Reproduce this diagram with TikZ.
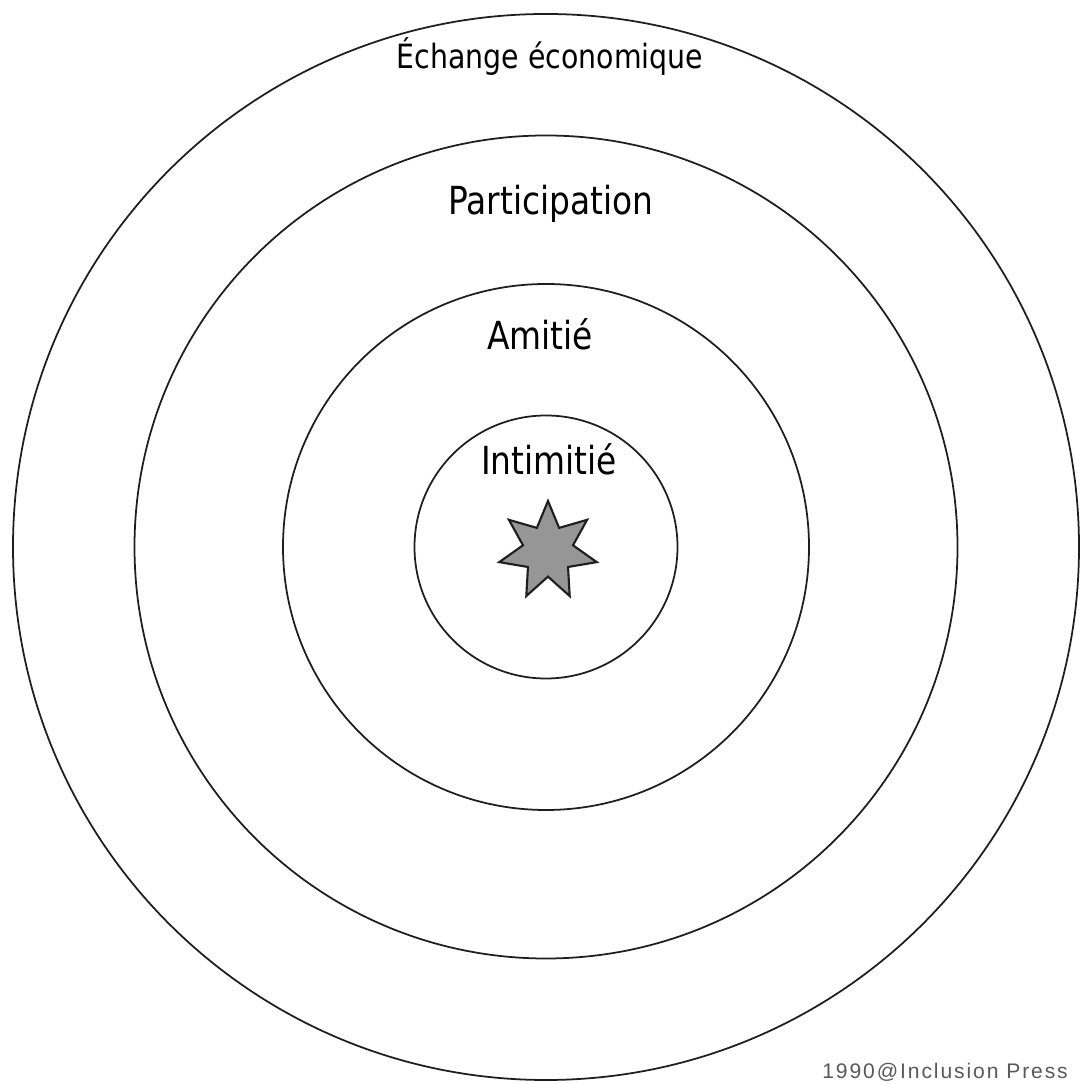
\documentclass[tikz,border=0pt]{standalone}
\usepackage{fontspec}
\usepackage{tikz}
\usetikzlibrary{shapes.geometric}
\newfontfamily\handfont[FakeStretch=0.85]{DejaVu Sans}
\newfontfamily\credfont[LetterSpace=9]{Liberation Sans}
\definecolor{inkc}{RGB}{30,30,30}
\definecolor{fillc}{RGB}{150,150,150}

\begin{document}
\begin{tikzpicture}[
  ring/.style={circle,draw=inkc,line width=1pt,inner sep=0pt},
  lbl/.style={font=\handfont\fontsize{22}{26}\selectfont,anchor=base,inner sep=0pt}]
  \useasboundingbox (0,0) rectangle (21.6,21.68);
  \coordinate (c) at (10.92,10.74);
  % concentric rings, outer to inner
  \foreach \r/\n in {10.66/eco,8.23/part,5.26/ami,2.63/inti}
    \node[ring,minimum size=2*\r cm] (\n) at (c) {};
  \node[star,star points=7,star point ratio=1.95,draw=inkc,line width=1.2pt,
        fill=fillc,minimum size=2cm,inner sep=0pt] (moi) at (10.96,10.66) {};
  \node[lbl,font=\handfont\fontsize{19}{22}\selectfont] (teco) at (11.0,20.3) {Échange économique};
  \node[lbl] (tpart) at (11.02,17.38) {Participation};
  \node[lbl] (tami) at (10.8,14.68) {Amitié};
  \node[lbl] (tinti) at (10.98,12.18) {Intimitié};
  \node[font=\credfont\fontsize{12}{14}\selectfont,gray!70!black,anchor=base west,inner sep=0pt]
    (copy) at (16.44,0.1) {1990@Inclusion Press};
\end{tikzpicture}
\end{document}
